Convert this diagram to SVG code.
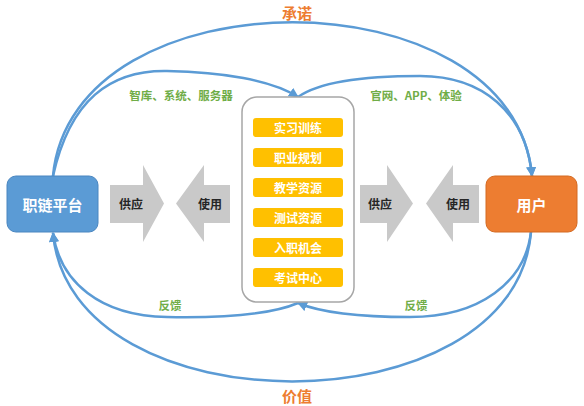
<svg xmlns="http://www.w3.org/2000/svg" width="584" height="406" viewBox="0 0 584 406">
<defs>
<marker id="ah" viewBox="0 0 10 10" refX="9" refY="5" markerWidth="4" markerHeight="4" orient="auto" markerUnits="strokeWidth">
<path d="M0,0 L10,5 L0,10 z" fill="#5B9BD5"/>
</marker>
<style>
text{font-family:"Noto Sans CJK SC","Noto Sans",sans-serif;font-weight:bold;text-anchor:middle;dominant-baseline:central}
.conn{fill:none;stroke:#5B9BD5;stroke-width:2.5}
.big{fill:#ED7D31;font-size:15px}
.grn{fill:#70AD47;font-size:11.5px}
.blk{fill:#C9C9C9}
.blt{fill:#262626;font-size:12px}
.item{fill:#FFC000}
.itt{fill:#FFFFFF;font-size:12px}
.node{stroke-width:1}
.nt{fill:#FFFFFF;font-size:15px}
</style>
</defs>
<rect width="584" height="406" fill="#FFFFFF"/>
<g id="connectors">
<path class="conn" d="M53,176 C72,-29 513,-29 532,176" marker-end="url(#ah)"/>
<path class="conn" d="M53,176 C70,100 110,70 167,71 C222,72 272,80 298,97" marker-end="url(#ah)"/>
<path class="conn" d="M298,97 C322,80 372,76 420,76 C482,76 526,112 532,176" marker-end="url(#ah)"/>
<path class="conn" d="M531,232 C515,431 70,431 53,233" marker-end="url(#ah)"/>
<path class="conn" d="M298,303 C270,315 220,318 167,317 C100,316 60,282 53,233" marker-end="url(#ah)"/>
<path class="conn" d="M531,232 C525,282 480,317 410,317 C360,317 322,313 298,303" marker-end="url(#ah)"/>
</g>
<g id="labels">
<text class="big" x="297" y="12">承诺</text>
<text class="big" x="297" y="395">价值</text>
<text class="grn" x="181" y="95">智库、系统、服务器</text>
<text class="grn" x="416" y="95">官网、APP、体验</text>
<text class="grn" x="170" y="305">反馈</text>
<text class="grn" x="416" y="305">反馈</text>
</g>
<g id="platform">
<rect class="node" x="7" y="176" width="91" height="56" rx="9" fill="#5B9BD5" stroke="#4A86C0"/>
<text class="nt" x="52.5" y="204">职链平台</text>
</g>
<g id="user">
<rect class="node" x="486" y="176" width="91" height="56" rx="9" fill="#ED7D31" stroke="#D46A22"/>
<text class="nt" x="531.5" y="204">用户</text>
</g>
<g id="supply-left">
<polygon class="blk" points="110,185 143,185 143,165 164,203.5 143,242 143,223 110,223"/>
<text class="blt" x="131" y="203.5">供应</text>
</g>
<g id="use-left">
<polygon class="blk" points="230,185 204,185 204,165 176,203.5 204,242 204,223 230,223"/>
<text class="blt" x="210" y="203.5">使用</text>
</g>
<g id="supply-right">
<polygon class="blk" points="360,185 387,185 387,165 413,203.5 387,242 387,223 360,223"/>
<text class="blt" x="380" y="203.5">供应</text>
</g>
<g id="use-right">
<polygon class="blk" points="479,185 453,185 453,165 426,203.5 453,242 453,223 479,223"/>
<text class="blt" x="458" y="203.5">使用</text>
</g>
<g id="resources">
<rect x="242" y="97" width="112" height="205" rx="15" fill="#FFFFFF" stroke="#A6A6A6" stroke-width="1.5"/>
<rect class="item" x="253" y="118" width="90" height="19" rx="3"/>
<text class="itt" x="298" y="127.5">实习训练</text>
<rect class="item" x="253" y="148" width="90" height="19" rx="3"/>
<text class="itt" x="298" y="157.5">职业规划</text>
<rect class="item" x="253" y="178" width="90" height="19" rx="3"/>
<text class="itt" x="298" y="187.5">教学资源</text>
<rect class="item" x="253" y="208" width="90" height="19" rx="3"/>
<text class="itt" x="298" y="217.5">测试资源</text>
<rect class="item" x="253" y="238" width="90" height="19" rx="3"/>
<text class="itt" x="298" y="247.5">入职机会</text>
<rect class="item" x="253" y="268" width="90" height="19" rx="3"/>
<text class="itt" x="298" y="277.5">考试中心</text>
</g>
</svg>
